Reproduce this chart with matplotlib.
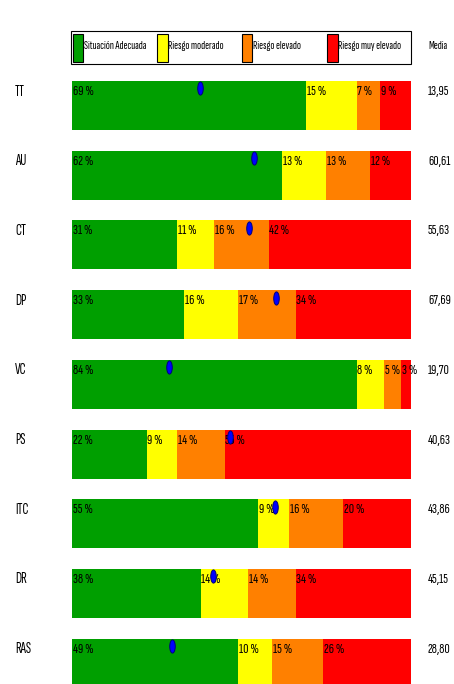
import numpy as np
import matplotlib
matplotlib.use('Agg')
import matplotlib.pyplot as plt
from matplotlib.patches import Rectangle
from matplotlib.path import Path
from matplotlib.transforms import Affine2D

plt.rcParams['font.family'] = ['Sofia Sans Extra Condensed', 'DejaVu Sans']

# data
rows = ['TT', 'AU', 'CT', 'DP', 'VC', 'PS', 'ITC', 'DR', 'RAS']
adecuada = [69, 62, 31, 33, 84, 22, 55, 38, 49]
moderado = [15, 13, 11, 16, 8, 9, 9, 14, 10]
elevado = [7, 13, 16, 17, 5, 14, 16, 14, 15]
muy_elevado = [9, 12, 42, 34, 3, 55, 20, 34, 26]
media = ['13,95', '60,61', '55,63', '67,69', '19,70', '40,63', '43,86', '45,15', '28,80']
marker_pos = [37.7, 53.6, 52.3, 60.1, 28.5, 46.6, 59.9, 41.5, 29.6]

categories = ['Situación Adecuada', 'Riesgo moderado', 'Riesgo elevado', 'Riesgo muy elevado']
colors = ['#009f00', '#ffff00', '#ff8000', '#ff0000']

W, H = 454, 684
fig = plt.figure(figsize=(W / 100, H / 100), dpi=100)
x0, x1 = 72, 411
row0, step = 105.5, 69.7
ax = fig.add_axes([x0 / W, 0, (x1 - x0) / W, 1])
ax.set_xlim(0, 100)
ax.set_ylim((H - row0) / step, -row0 / step)
ax.axis('off')

y = np.arange(len(rows))
series = [adecuada, moderado, elevado, muy_elevado]
left = np.zeros(len(rows))
bar_h = 49 / step
txt_off = -0.2
for vals, c in zip(series, colors):
    vals = np.array(vals, dtype=float)
    ax.barh(y, vals, left=left, height=bar_h, color=c, edgecolor='none')
    for i in range(len(rows)):
        ax.text(left[i] + 0.2, y[i] + txt_off, f'{int(vals[i])} %', ha='left', va='center',
                fontsize=10.5, color='black')
    left += vals

# mean markers (ellipses)
ell = Path.unit_circle().transformed(Affine2D().scale(0.42, 1.0))
ax.scatter(marker_pos, y - 0.245, marker=ell, s=90, color='#0000ff',
           edgecolors='#00007a', linewidths=0.7, zorder=5)

# row labels and media values
for i, r in enumerate(rows):
    ax.text((15 - x0) / 3.39, y[i] + txt_off, r, ha='left', va='center', fontsize=11, clip_on=False)
    ax.text((428 - x0) / 3.39, y[i] + txt_off, media[i], ha='left', va='center', fontsize=10.5,
            clip_on=False)

# legend box
ly_top, ly_bot = (31 - row0) / step, (64 - row0) / step
ax.add_patch(Rectangle((-0.3, ly_top), 100.3, ly_bot - ly_top, facecolor='white',
                       edgecolor='black', linewidth=0.8, clip_on=False))
leg_x = [72.5, 157, 241.5, 327]
py_top, py_bot = (34 - row0) / step, (62 - row0) / step
for px, lab, c in zip(leg_x, categories, colors):
    xd = (px - x0) / 3.39
    ax.add_patch(Rectangle((xd, py_top), 10.5 / 3.39, py_bot - py_top, facecolor=c,
                           edgecolor='black', linewidth=0.8, clip_on=False))
    ax.text(xd + 11.5 / 3.39, (46 - row0) / step, lab, ha='left', va='center', fontsize=8.5,
            clip_on=False)
ax.text((428 - x0) / 3.39, (46 - row0) / step, 'Media', ha='left', va='center', fontsize=8.5,
        clip_on=False)

fig.savefig('out.png', dpi=100)
